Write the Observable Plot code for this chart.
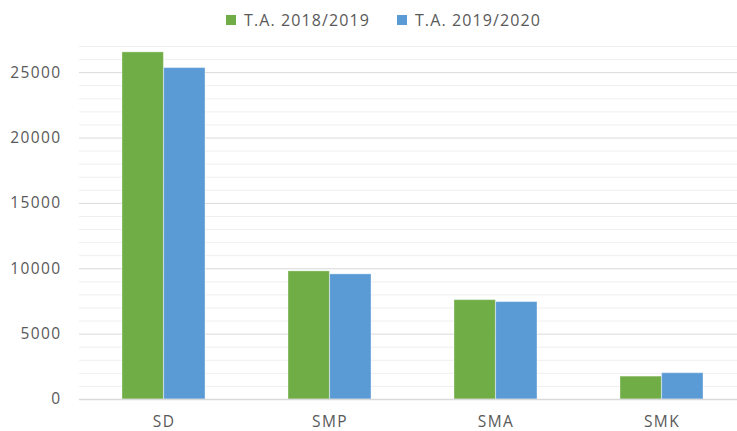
<!DOCTYPE html>
<html><head><meta charset="utf-8">
<script src="https://cdn.jsdelivr.net/npm/d3@7"></script>
<script src="https://cdn.jsdelivr.net/npm/@observablehq/plot@0.6"></script>
<style>
body{margin:0;background:#fff;font-family:"Open Sans",sans-serif;overflow:hidden;}
#legend{height:36px;box-sizing:border-box;padding-top:3px;padding-left:226px;display:flex;align-items:center;font-size:16px;color:#595959;letter-spacing:1.1px;line-height:22px;white-space:nowrap}
.sw{width:10px;height:10px;display:inline-block;margin-right:8px}
.item{display:flex;align-items:center;margin-right:27px}
</style></head><body>
<div id="legend"></div>
<div id="chart"></div>
<script>
const categories = ["SD", "SMP", "SMA", "SMK"];
const seriesNames = ["T.A. 2018/2019", "T.A. 2019/2020"];
const values2018 = [26550, 9800, 7600, 1750];
const values2019 = [25350, 9570, 7450, 2010];
const seriesColors = ["#70ad47", "#5b9bd5"];
const majorTicks = [0, 5000, 10000, 15000, 20000, 25000];
const yMax = 27000;

const legend = document.getElementById("legend");
seriesNames.forEach((s, i) => {
  const it = document.createElement("span");
  it.className = "item";
  it.innerHTML = `<span class="sw" style="background:${seriesColors[i]}"></span>${s}`;
  legend.appendChild(it);
});

const rows = [];
categories.forEach((c, i) => {
  rows.push({cat: c, series: seriesNames[0], value: values2018[i]});
  rows.push({cat: c, series: seriesNames[1], value: values2019[i]});
});

const width = 737, height = 395;
const marginLeft = 79, marginRight = -8;
const step = (width - marginLeft - marginRight) / categories.length;
const half = step * 0.5 / 2;

const minor = d3.range(1000, yMax + 1, 1000).filter(v => v % 5000 !== 0);

const chart = Plot.plot({
  width, height,
  marginLeft, marginRight, marginTop: 10, marginBottom: 32,
  style: {fontSize: "15.5px", fontFamily: "Open Sans, sans-serif", color: "#595959", letterSpacing: "1.4px", background: "#fff", overflow: "visible"},
  x: {domain: categories, paddingInner: 0.5, paddingOuter: 0.25, tickSize: 0, tickPadding: 16, label: null},
  y: {domain: [0, yMax], ticks: majorTicks, tickSize: 0, tickPadding: 18, label: null, tickFormat: d => String(d)},
  marks: [
    Plot.ruleY(minor, {stroke: "#efefef", strokeWidth: 1}),
    Plot.ruleY(majorTicks.filter(v => v > 0), {stroke: "#d9d9d9", strokeWidth: 1}),
    Plot.barY(rows.filter(d => d.series === seriesNames[0]), {x: "cat", y: "value", fill: seriesColors[0], insetRight: half, stroke: "#ffffff", strokeOpacity: 0.35, strokeWidth: 1}),
    Plot.barY(rows.filter(d => d.series === seriesNames[1]), {x: "cat", y: "value", fill: seriesColors[1], insetLeft: half, stroke: "#ffffff", strokeOpacity: 0.35, strokeWidth: 1}),
    Plot.ruleY([0], {stroke: "#d9d9d9", strokeWidth: 1.5})
  ]
});
document.getElementById("chart").appendChild(chart);
</script>
</body></html>
